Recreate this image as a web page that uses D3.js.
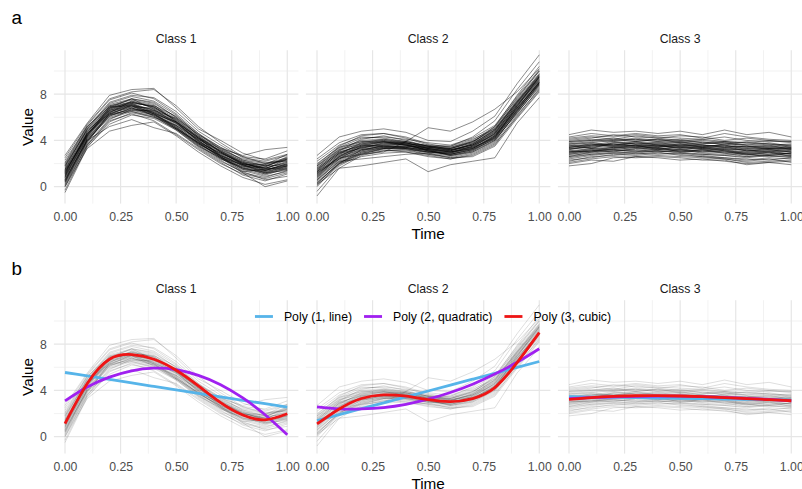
<!DOCTYPE html>
<html>
<head>
<meta charset="utf-8">
<script src="https://cdn.jsdelivr.net/npm/d3@7"></script>
<style>
  body { margin: 0; background: #fff; }
  svg text { font-family: "Liberation Sans", Arial, sans-serif; }
</style>
</head>
<body>
<div id="chart"></div>
<script>
/* DATA */
const timePoints = [0, 0.1, 0.2, 0.3, 0.4, 0.5, 0.6, 0.7, 0.8, 0.9, 1];
const classNames = ["Class 1", "Class 2", "Class 3"];
const rowTags = ["a", "b"];

const class1Curves = [
  [1.2, 4.6, 6.8, 7.3, 6.9, 5.7, 4.2, 3.0, 2.0, 1.6, 2.1],
  [0.4, 3.9, 6.1, 6.8, 6.3, 5.2, 3.7, 2.5, 1.6, 1.2, 1.8],
  [2.1, 5.3, 7.5, 8.1, 7.6, 6.3, 4.6, 3.4, 2.3, 2.0, 2.5],
  [-0.3, 3.5, 5.4, 6.2, 5.9, 4.9, 3.5, 2.3, 1.2, 0.8, 1.4],
  [1.5, 4.8, 6.6, 7.0, 6.4, 5.5, 3.9, 2.9, 2.1, 1.9, 2.4],
  [0.8, 4.2, 6.4, 7.4, 7.0, 5.9, 4.3, 2.6, 1.5, 1.0, 1.6],
  [2.7, 5.5, 7.9, 8.4, 8.5, 6.8, 5.0, 4.0, 2.9, 2.3, 2.8],
  [0.0, 3.3, 4.8, 5.3, 5.6, 4.4, 3.0, 1.8, 0.8, 0.2, 0.6],
  [1.0, 4.5, 6.9, 7.6, 6.7, 5.4, 4.0, 2.8, 1.9, 1.4, 1.9],
  [1.8, 4.9, 6.3, 6.6, 6.2, 5.3, 4.1, 3.1, 2.2, 1.8, 2.3],
  [0.6, 4.0, 6.2, 7.1, 6.6, 5.6, 4.2, 2.7, 1.6, 1.4, 2.0],
  [1.3, 4.4, 6.7, 7.2, 6.4, 5.1, 3.6, 2.4, 1.7, 1.7, 2.6],
  [0.2, 3.7, 5.9, 6.5, 6.1, 5.0, 3.8, 2.6, 1.7, 1.1, 1.5],
  [1.6, 5.0, 7.2, 7.8, 7.4, 6.2, 4.4, 3.2, 2.4, 2.1, 2.2],
  [0.9, 4.3, 6.5, 6.9, 6.8, 5.8, 4.3, 3.0, 1.9, 1.3, 1.7],
  [2.3, 5.2, 6.9, 7.0, 6.1, 4.9, 3.4, 2.2, 1.3, 1.5, 2.4],
  [0.5, 4.1, 6.0, 6.6, 6.6, 5.9, 4.5, 3.3, 2.3, 1.8, 1.9],
  [1.1, 4.7, 7.0, 7.5, 7.1, 5.6, 3.9, 2.5, 1.4, 0.9, 1.3],
  [-0.5, 3.4, 5.6, 6.4, 6.0, 5.3, 3.9, 2.8, 1.8, 1.2, 1.6],
  [1.4, 4.5, 6.6, 7.1, 6.5, 5.2, 3.7, 2.7, 1.9, 1.7, 2.5],
  [0.7, 4.0, 5.2, 5.8, 5.1, 4.6, 3.3, 2.1, 1.0, 0.5, 1.1],
  [1.9, 5.1, 7.3, 7.9, 7.7, 6.5, 4.8, 3.6, 2.5, 2.2, 2.7],
  [0.3, 3.8, 6.3, 7.0, 6.3, 5.1, 3.8, 2.9, 2.0, 1.6, 2.2],
  [1.2, 4.6, 6.4, 6.8, 6.3, 5.6, 4.2, 3.1, 2.1, 1.4, 1.8],
  [2.5, 5.4, 7.6, 8.2, 8.4, 7.0, 5.2, 3.8, 2.6, 2.0, 2.3],
  [0.1, 3.6, 5.7, 6.3, 5.7, 4.5, 3.2, 2.0, 1.1, 0.7, 1.2],
  [1.0, 4.3, 6.6, 7.3, 6.9, 5.7, 4.1, 2.9, 2.0, 1.8, 2.4],
  [1.7, 4.9, 6.9, 7.2, 6.6, 5.3, 3.8, 2.6, 1.5, 1.3, 1.8],
  [0.6, 4.1, 6.3, 6.9, 6.4, 5.5, 4.0, 2.7, 1.8, 1.6, 2.1],
  [1.3, 4.4, 6.5, 7.0, 6.7, 5.5, 4.1, 3.0, 2.1, 1.5, 1.9],
  [0.8, 4.2, 6.2, 6.7, 6.2, 5.0, 3.6, 2.4, 1.6, 1.1, 1.7],
  [2.0, 5.2, 7.1, 7.6, 7.2, 6.0, 4.5, 3.4, 2.6, 2.4, 3.1],
  [0.4, 3.9, 6.4, 7.2, 7.0, 6.1, 4.6, 3.2, 2.2, 1.6, 1.5],
  [1.1, 4.5, 6.7, 7.4, 6.8, 5.6, 4.0, 2.6, 1.3, 0.6, 0.9],
  [1.5, 4.7, 6.8, 7.1, 6.3, 5.0, 3.5, 2.5, 1.9, 1.9, 2.8],
  [0.0, 3.6, 5.8, 6.7, 6.5, 5.6, 4.3, 3.1, 2.0, 1.5, 1.8],
  [1.4, 4.6, 6.2, 6.5, 6.0, 5.0, 3.7, 2.7, 1.8, 1.4, 2.0],
  [0.9, 4.4, 6.8, 7.6, 7.3, 6.0, 4.4, 3.0, 1.9, 1.2, 1.4],
  [1.8, 5.0, 7.0, 7.3, 6.9, 5.8, 4.2, 3.3, 2.7, 3.2, 3.4],
  [0.5, 4.0, 6.1, 6.8, 6.2, 5.1, 3.8, 2.5, 1.2, 0.0, 0.5]
];

const class2Curves = [
  [1.2, 2.8, 3.5, 3.7, 3.6, 3.2, 3.0, 3.5, 4.6, 7.0, 9.3],
  [0.5, 2.2, 3.0, 3.3, 3.2, 2.8, 2.6, 3.0, 4.0, 6.4, 8.6],
  [2.0, 3.4, 4.2, 4.3, 4.1, 3.8, 3.6, 4.2, 5.3, 7.8, 10.1],
  [-0.8, 1.6, 2.7, 3.1, 3.2, 3.0, 2.8, 3.2, 4.1, 6.3, 8.8],
  [1.5, 3.0, 3.6, 3.5, 3.3, 3.0, 2.9, 3.3, 4.4, 6.8, 9.0],
  [0.9, 2.5, 3.3, 3.8, 3.9, 3.5, 3.1, 3.6, 4.8, 7.3, 9.7],
  [2.7, 4.3, 4.8, 5.0, 4.7, 4.0, 3.9, 4.8, 6.1, 8.9, 11.4],
  [0.2, 1.6, 1.8, 2.1, 2.4, 1.3, 1.9, 2.2, 2.5, 5.5, 7.7],
  [1.3, 2.9, 3.7, 4.0, 3.8, 3.3, 3.0, 3.4, 4.3, 6.7, 9.1],
  [0.7, 2.4, 3.2, 3.5, 3.4, 3.1, 2.7, 3.1, 4.2, 6.9, 9.5],
  [1.8, 3.2, 3.9, 3.9, 3.6, 3.4, 3.3, 3.9, 5.0, 7.5, 9.8],
  [0.0, 2.0, 3.0, 3.4, 3.3, 2.9, 2.5, 2.9, 3.8, 6.2, 8.4],
  [1.1, 2.6, 3.4, 3.6, 3.7, 3.6, 3.2, 3.7, 4.7, 7.1, 9.4],
  [1.6, 3.1, 4.1, 4.4, 4.0, 3.5, 3.4, 4.0, 5.2, 7.6, 10.0],
  [0.3, 2.1, 2.9, 3.2, 3.0, 2.6, 2.4, 2.8, 3.7, 6.0, 8.3],
  [1.4, 2.9, 3.3, 3.4, 3.5, 3.4, 3.2, 3.6, 4.5, 7.0, 9.2],
  [0.8, 2.6, 3.6, 3.9, 3.7, 3.1, 2.9, 3.4, 4.6, 7.2, 9.6],
  [2.2, 3.6, 4.3, 4.2, 3.9, 3.5, 3.5, 4.1, 5.0, 7.4, 9.6],
  [-0.4, 1.8, 2.8, 3.3, 3.4, 3.1, 2.8, 3.2, 4.3, 6.6, 9.0],
  [1.0, 2.7, 3.4, 3.5, 3.5, 3.3, 3.1, 3.6, 4.7, 7.1, 9.3],
  [1.3, 2.5, 2.8, 3.0, 3.9, 5.1, 4.8, 5.6, 6.7, 8.2, 10.2],
  [0.6, 2.3, 3.1, 3.6, 3.6, 3.3, 3.0, 3.3, 4.2, 6.5, 8.9],
  [1.7, 3.3, 4.0, 4.1, 3.8, 3.3, 3.1, 3.7, 4.9, 7.3, 9.5],
  [0.4, 2.0, 2.6, 2.9, 3.0, 2.7, 2.4, 2.7, 3.6, 6.1, 8.5],
  [1.1, 2.8, 3.8, 4.1, 3.9, 3.5, 3.3, 3.8, 4.8, 7.2, 9.4],
  [1.9, 3.5, 4.4, 4.6, 4.3, 3.7, 3.4, 3.9, 4.9, 7.4, 9.7],
  [0.1, 1.9, 2.9, 3.3, 3.4, 3.2, 2.9, 3.5, 4.5, 6.8, 9.1],
  [1.5, 3.0, 3.5, 3.6, 3.4, 3.0, 2.8, 3.2, 4.1, 6.6, 8.8],
  [0.9, 2.7, 3.4, 3.7, 3.8, 3.4, 3.2, 3.6, 4.6, 6.9, 9.2],
  [1.2, 2.4, 3.1, 3.4, 3.3, 3.0, 3.0, 3.5, 4.4, 6.7, 9.0],
  [2.4, 3.8, 4.5, 4.6, 4.2, 3.6, 3.5, 4.3, 5.7, 8.4, 10.8],
  [0.6, 2.2, 2.4, 2.6, 2.8, 2.9, 2.7, 3.1, 4.0, 6.4, 8.7],
  [1.4, 3.1, 3.8, 3.8, 3.6, 3.2, 3.0, 3.3, 4.3, 7.0, 9.5],
  [0.8, 2.4, 3.5, 3.9, 3.8, 3.4, 3.3, 3.9, 5.1, 7.7, 10.0],
  [1.6, 3.2, 3.7, 3.9, 3.6, 3.1, 2.8, 3.3, 4.4, 6.8, 9.0],
  [0.3, 2.0, 3.2, 3.5, 3.5, 3.2, 2.7, 3.0, 3.9, 6.5, 8.9],
  [1.0, 2.6, 3.2, 3.3, 3.3, 3.2, 3.1, 3.7, 4.9, 7.3, 9.5],
  [1.8, 3.4, 3.9, 4.0, 3.7, 3.3, 3.2, 3.4, 4.2, 6.6, 8.9],
  [0.2, 2.1, 2.8, 3.1, 3.1, 2.8, 2.5, 2.6, 3.5, 5.9, 8.2],
  [1.3, 2.9, 3.6, 3.8, 3.7, 3.5, 3.3, 3.8, 5.2, 7.9, 10.4]
];

const class3Curves = [
  [3.2, 3.5, 3.6, 3.5, 3.4, 3.6, 3.4, 3.3, 3.1, 3.2, 3.0],
  [2.5, 2.8, 2.9, 3.0, 3.1, 2.9, 2.8, 2.7, 2.6, 2.7, 2.6],
  [4.2, 4.4, 4.3, 4.5, 4.3, 4.2, 4.1, 4.3, 4.0, 3.9, 3.9],
  [1.8, 2.0, 2.5, 2.6, 2.7, 2.6, 2.5, 2.4, 2.2, 2.4, 2.1],
  [3.6, 3.3, 3.8, 3.9, 3.6, 3.7, 3.5, 3.6, 3.3, 3.4, 3.3],
  [3.0, 3.3, 3.2, 3.4, 3.3, 3.1, 3.2, 3.0, 2.9, 2.8, 2.9],
  [4.5, 4.9, 4.7, 4.8, 4.6, 4.8, 4.5, 4.9, 4.5, 4.7, 4.3],
  [2.8, 3.1, 3.4, 3.2, 3.5, 3.3, 3.0, 3.1, 2.7, 3.0, 2.8],
  [3.4, 3.7, 3.5, 3.8, 3.7, 3.5, 3.6, 3.4, 3.5, 3.2, 3.4],
  [2.2, 2.6, 2.7, 2.9, 2.8, 2.9, 2.7, 2.5, 2.4, 2.3, 2.5],
  [3.9, 4.1, 4.0, 4.2, 4.0, 3.9, 4.0, 3.8, 3.6, 3.8, 3.5],
  [3.1, 3.0, 3.3, 3.6, 3.2, 3.4, 3.3, 3.1, 3.0, 3.1, 3.2],
  [2.6, 3.0, 3.1, 3.1, 3.0, 3.2, 2.9, 2.8, 2.8, 2.6, 2.7],
  [3.7, 3.9, 4.1, 3.9, 4.1, 3.8, 3.7, 3.9, 3.6, 3.5, 3.6],
  [2.9, 3.2, 3.0, 3.3, 3.4, 3.0, 3.1, 3.2, 2.8, 2.9, 2.7],
  [3.5, 3.6, 3.9, 3.7, 3.8, 3.9, 3.6, 3.5, 3.4, 3.6, 3.2],
  [2.0, 2.3, 2.2, 2.6, 2.5, 2.3, 2.4, 2.2, 2.0, 2.1, 1.9],
  [4.0, 4.2, 4.5, 4.3, 4.2, 4.4, 4.3, 4.0, 4.2, 4.0, 3.9],
  [3.3, 3.4, 3.7, 3.5, 3.6, 3.3, 3.5, 3.6, 3.2, 3.3, 3.1],
  [2.7, 2.9, 3.1, 3.3, 3.1, 3.0, 3.2, 2.9, 2.6, 2.8, 2.9],
  [3.8, 4.0, 3.9, 4.1, 3.9, 4.1, 3.8, 3.7, 3.9, 3.7, 3.6],
  [3.0, 3.2, 3.4, 3.4, 3.2, 3.5, 3.3, 3.2, 3.0, 3.1, 2.8],
  [2.4, 2.7, 2.9, 2.8, 3.0, 2.7, 2.6, 2.5, 2.3, 2.5, 2.4],
  [3.6, 3.8, 3.6, 3.9, 3.8, 3.6, 3.7, 3.8, 3.5, 3.4, 3.5],
  [3.2, 3.6, 3.5, 3.6, 3.4, 3.6, 3.5, 3.2, 3.3, 3.3, 3.4],
  [2.9, 3.1, 3.2, 3.0, 3.3, 3.2, 3.1, 2.9, 2.9, 3.0, 2.6],
  [4.3, 4.6, 4.4, 4.6, 4.4, 4.5, 4.2, 4.6, 4.3, 4.1, 4.0],
  [3.4, 3.5, 3.8, 3.7, 3.5, 3.7, 3.4, 3.5, 3.1, 3.3, 3.2],
  [2.3, 2.5, 2.8, 2.7, 2.9, 2.8, 2.6, 2.4, 2.1, 2.2, 2.3],
  [3.1, 3.3, 3.4, 3.6, 3.5, 3.4, 3.2, 3.3, 3.2, 3.0, 3.1],
  [3.7, 3.8, 4.0, 4.1, 3.9, 3.8, 3.9, 3.6, 3.7, 3.7, 3.4],
  [2.8, 3.0, 3.2, 3.1, 3.2, 3.1, 3.0, 3.0, 2.8, 2.7, 2.9],
  [3.5, 3.7, 3.6, 3.8, 3.6, 3.5, 3.4, 3.7, 3.4, 3.5, 3.3],
  [2.6, 2.8, 3.0, 2.9, 3.1, 3.0, 2.8, 2.7, 2.5, 2.7, 2.5],
  [3.9, 4.0, 4.2, 4.0, 4.1, 4.0, 3.8, 3.9, 3.8, 3.6, 3.7],
  [3.3, 3.4, 3.5, 3.4, 3.6, 3.4, 3.3, 3.4, 3.1, 3.2, 3.0],
  [3.0, 3.1, 3.3, 3.5, 3.3, 3.2, 3.4, 3.1, 2.9, 3.0, 3.0],
  [4.1, 4.3, 4.1, 4.4, 4.2, 4.0, 4.1, 3.9, 3.8, 4.0, 3.8],
  [2.1, 2.4, 2.6, 2.5, 2.6, 2.5, 2.3, 2.3, 1.9, 2.1, 2.2],
  [3.4, 3.6, 3.7, 3.6, 3.7, 3.8, 3.6, 3.4, 3.5, 3.3, 3.3]
];

// fitted curves, one row per class, at timePoints
const fitNames = ["Poly (1, line)", "Poly (2, quadratic)", "Poly (3, cubic)"];
const fitColors = ["#56B4E9", "#A020F0", "#EE1515"];
const fitLine = [
  [5.55, 5.25, 4.95, 4.65, 4.35, 4.05, 3.75, 3.45, 3.15, 2.85, 2.55],
  [1.4, 1.91, 2.42, 2.93, 3.44, 3.95, 4.46, 4.97, 5.48, 5.99, 6.5],
  [3.46, 3.43, 3.40, 3.37, 3.34, 3.32, 3.29, 3.26, 3.23, 3.20, 3.17]
];
const fitQuadratic = [
  [3.1, 4.3, 5.15, 5.7, 5.92, 5.8, 5.3, 4.5, 3.35, 1.9, 0.17],
  [2.57, 2.4, 2.4, 2.52, 2.8, 3.24, 3.82, 4.54, 5.42, 6.43, 7.6],
  [3.28, 3.37, 3.44, 3.49, 3.51, 3.5, 3.46, 3.40, 3.32, 3.22, 3.09]
];
const fitCubic = [
  [1.14, 4.6, 6.7, 7.1, 6.7, 5.75, 4.4, 2.95, 1.87, 1.46, 1.98],
  [1.1, 2.4, 3.3, 3.62, 3.5, 3.2, 3.03, 3.3, 4.25, 6.4, 9.0],
  [3.23, 3.38, 3.48, 3.54, 3.55, 3.52, 3.46, 3.38, 3.29, 3.2, 3.11]
];

const xTicks = [0, 0.25, 0.5, 0.75, 1];
const xMinor = [0.125, 0.375, 0.625, 0.875];
const yTicks = [0, 4, 8];
const yMinor = [2, 6, 10];

/* LAYOUT */
const width = 802,
  height = 489,
  panelLeft = 53.9,
  panelWidth = 244.5,
  panelGap = 7.5,
  rowTop = [50.2, 300.2],
  panelHeight = 153.4;

const curvesByClass = [class1Curves, class2Curves, class3Curves];
const fitsByType = [fitLine, fitQuadratic, fitCubic];

const svg = d3
  .select("#chart")
  .append("svg")
  .attr("width", width)
  .attr("height", height);

function drawRow(r) {
  const top = rowTop[r];
  const yScale = d3
    .scaleLinear()
    .domain([-1.46, 11.8])
    .range([top + panelHeight, top]);

  // tag
  svg
    .append("text")
    .attr("x", 11.5)
    .attr("y", r === 0 ? 24 : 274.5)
    .attr("font-size", 18.8)
    .attr("fill", "#000")
    .text(rowTags[r]);

  classNames.forEach((name, c) => {
    const left = panelLeft + c * (panelWidth + panelGap);
    const xScale = d3
      .scaleLinear()
      .domain([-0.05, 1.05])
      .range([left, left + panelWidth]);

    const g = svg.append("g").attr("class", "panel");

    // grid
    g.selectAll("line.xminor")
      .data(xMinor)
      .join("line")
      .attr("x1", d => xScale(d))
      .attr("x2", d => xScale(d))
      .attr("y1", top)
      .attr("y2", top + panelHeight)
      .attr("stroke", "#ededed")
      .attr("stroke-width", 0.7);
    g.selectAll("line.yminor")
      .data(yMinor)
      .join("line")
      .attr("x1", left)
      .attr("x2", left + panelWidth)
      .attr("y1", d => yScale(d))
      .attr("y2", d => yScale(d))
      .attr("stroke", "#ededed")
      .attr("stroke-width", 0.7);
    g.selectAll("line.xmajor")
      .data(xTicks)
      .join("line")
      .attr("x1", d => xScale(d))
      .attr("x2", d => xScale(d))
      .attr("y1", top)
      .attr("y2", top + panelHeight)
      .attr("stroke", "#e6e6e6")
      .attr("stroke-width", 1.2);
    g.selectAll("line.ymajor")
      .data(yTicks)
      .join("line")
      .attr("x1", left)
      .attr("x2", left + panelWidth)
      .attr("y1", d => yScale(d))
      .attr("y2", d => yScale(d))
      .attr("stroke", "#e6e6e6")
      .attr("stroke-width", 1.2);

    // strip label
    svg
      .append("text")
      .attr("x", left + panelWidth / 2)
      .attr("y", top - 7.5)
      .attr("text-anchor", "middle")
      .attr("font-size", 12.25)
      .attr("fill", "#1A1A1A")
      .text(name);

    // individual series
    const lineFunc = d3
      .line()
      .x((d, i) => xScale(timePoints[i]))
      .y(d => yScale(d));

    g.selectAll("path.trend")
      .data(curvesByClass[c])
      .join("path")
      .attr("class", "trend")
      .attr("fill", "none")
      .attr("stroke", "#000")
      .attr("stroke-opacity", r === 0 ? 0.45 : 0.13)
      .attr("stroke-width", 1)
      .attr("stroke-linejoin", "round")
      .attr("d", lineFunc);

    // fitted polynomials
    if (r === 1) {
      const fitFunc = d3
        .line()
        .curve(d3.curveNatural)
        .x((d, i) => xScale(timePoints[i]))
        .y(d => yScale(d));
      g.selectAll("path.fit")
        .data(fitsByType.map(f => f[c]))
        .join("path")
        .attr("class", "fit")
        .attr("fill", "none")
        .attr("stroke", (d, i) => fitColors[i])
        .attr("stroke-width", 2.8)
        .attr("d", fitFunc);
    }

    // x axis
    const xAxis = d3
      .axisBottom(xScale)
      .tickValues(xTicks)
      .tickFormat(d3.format(".2f"))
      .tickSize(0)
      .tickPadding(8.6);
    const xg = svg
      .append("g")
      .attr("transform", `translate(0,${top + panelHeight})`)
      .call(xAxis);
    xg.select(".domain").remove();
    xg.selectAll("text")
      .attr("font-size", 12.25)
      .attr("fill", "#4D4D4D")
      .attr("font-family", null);

    if (c === 0) {
      const yAxis = d3
        .axisLeft(yScale)
        .tickValues(yTicks)
        .tickSize(0)
        .tickPadding(7);
      const yg = svg
        .append("g")
        .attr("transform", `translate(${left},0)`)
        .call(yAxis);
      yg.select(".domain").remove();
      yg.selectAll("text")
        .attr("font-size", 12.25)
        .attr("fill", "#4D4D4D")
        .attr("font-family", null);

      svg
        .append("text")
        .attr("transform", `translate(33,${top + panelHeight / 2}) rotate(-90)`)
        .attr("text-anchor", "middle")
        .attr("font-size", 15.3)
        .attr("fill", "#000")
        .text("Value");
    }

    if (c === 1) {
      svg
        .append("text")
        .attr("x", left + panelWidth / 2)
        .attr("y", top + panelHeight + 35.1)
        .attr("text-anchor", "middle")
        .attr("font-size", 15.3)
        .attr("fill", "#000")
        .text("Time");
    }
  });
}

function drawLegend() {
  const legendY = 316.5;
  const keyW = 18,
    keyGap = 11,
    itemGap = 12;
  const lg = svg.append("g").attr("class", "legend");
  const items = lg
    .selectAll("g.item")
    .data(fitNames)
    .join("g")
    .attr("class", "item");
  items
    .append("line")
    .attr("x1", 0)
    .attr("x2", keyW)
    .attr("y1", legendY)
    .attr("y2", legendY)
    .attr("stroke", (d, i) => fitColors[i])
    .attr("stroke-width", 2.8);
  items
    .append("text")
    .attr("x", keyW + keyGap)
    .attr("y", legendY + 4.3)
    .attr("font-size", 12.25)
    .attr("fill", "#000")
    .text(d => d);

  // place items side by side, centered over the panels
  let widths = [];
  items.each(function () {
    widths.push(keyW + keyGap + d3.select(this).select("text").node().getComputedTextLength());
  });
  const total = d3.sum(widths) + itemGap * (widths.length - 1);
  let x0 = 433 - total / 2;
  items.attr("transform", (d, i) => {
    const t = `translate(${x0},0)`;
    x0 += widths[i] + itemGap;
    return t;
  });
}

drawRow(0);
drawRow(1);
drawLegend();
</script>
</body>
</html>
